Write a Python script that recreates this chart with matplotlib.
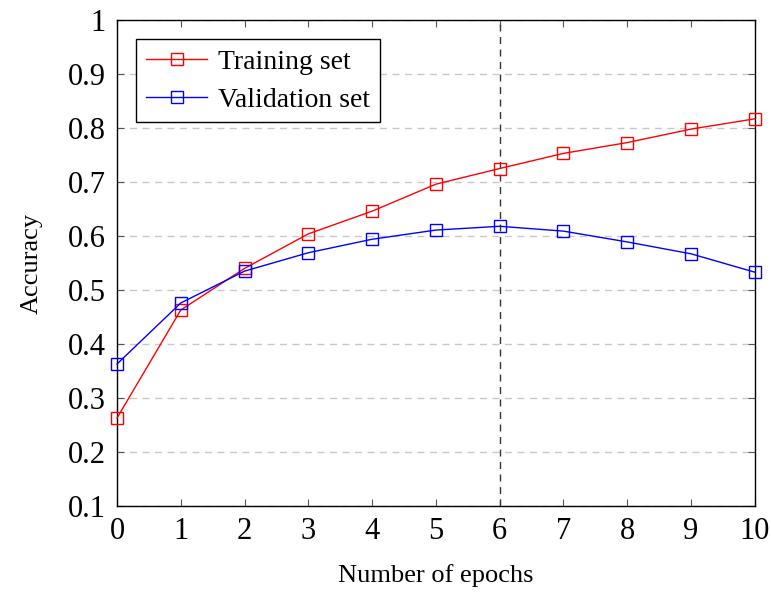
import matplotlib
matplotlib.use("Agg")
import matplotlib.pyplot as plt

epochs = [0, 1, 2, 3, 4, 5, 6, 7, 8, 9, 10]
training = [0.263, 0.463, 0.540, 0.604, 0.646, 0.696, 0.725, 0.753, 0.773, 0.798, 0.817]
validation = [0.363, 0.476, 0.535, 0.569, 0.594, 0.611, 0.618, 0.609, 0.589, 0.567, 0.533]
best_epoch = 6

plt.rcParams['font.family'] = ['Liberation Serif', 'DejaVu Serif']

fig = plt.figure(figsize=(7.71, 5.92), dpi=100)
ax = fig.add_axes([0.1518, 0.1453, 0.8272, 0.8209])

ax.plot(epochs, training, color='red', marker='s', markersize=9, markerfacecolor='none',
        markeredgewidth=1, linewidth=1, label='Training set', clip_on=False, zorder=3)
ax.plot(epochs, validation, color='blue', marker='s', markersize=9, markerfacecolor='none',
        markeredgewidth=1, linewidth=1, label='Validation set', clip_on=False, zorder=3)
ax.axvline(best_epoch, color='#333333', linestyle=(0, (5, 4)), linewidth=1)

ax.set_xlim(0, 10)
ax.set_ylim(0.1, 1.0)
ax.set_xticks(epochs)
yt = [0.1, 0.2, 0.3, 0.4, 0.5, 0.6, 0.7, 0.8, 0.9, 1.0]
ax.set_yticks(yt)
ax.set_yticklabels(['0.1', '0.2', '0.3', '0.4', '0.5', '0.6', '0.7', '0.8', '0.9', '1'])
ax.grid(axis='y', color='#c8c8c8', linestyle=(0, (5, 4)), linewidth=1)
ax.tick_params(direction='in', top=True, right=True, labelsize=22, length=5,
               color='#555555', pad=8)
for s in ax.spines.values():
    s.set_linewidth(1)

ax.set_xlabel('Number of epochs', fontsize=19, labelpad=13)
ax.set_ylabel('Accuracy', fontsize=19, labelpad=18)

leg = ax.legend(loc='upper left', fontsize=20, fancybox=False, edgecolor='black',
                framealpha=1, borderaxespad=0.7, handlelength=2.2, handletextpad=0.4,
                borderpad=0.35, labelspacing=0.45)
leg.get_frame().set_linewidth(1)

plt.savefig('out.png', dpi=100)
plt.close()
